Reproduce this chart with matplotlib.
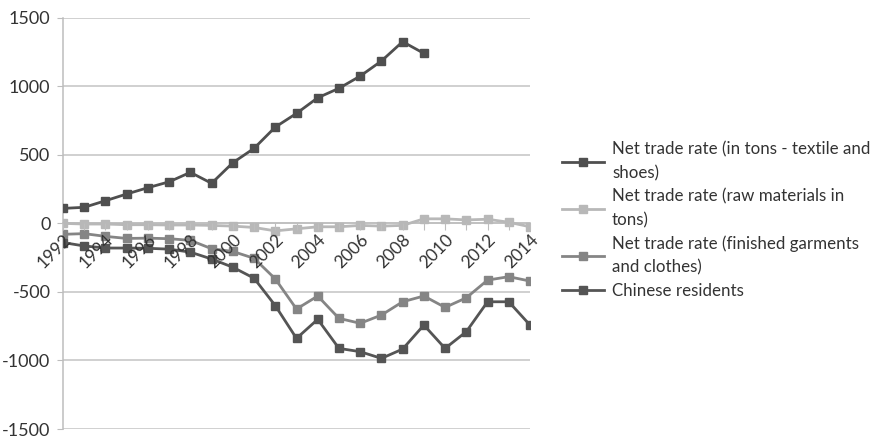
import matplotlib
matplotlib.use("Agg")
import matplotlib.pyplot as plt
from matplotlib.ticker import FixedLocator

plt.rcParams['font.family'] = ['Lato', 'DejaVu Sans']

years = list(range(1992, 2015))
textile_years = list(range(1992, 2010))
textile = [109, 117, 165, 214, 260, 303, 372, 292, 442, 547, 702, 802,
           916, 985, 1074, 1184, 1325, 1240]
raw = [0, -5, -5, -10, -10, -12, -12, -15, -20, -30, -55, -40,
       -25, -25, -15, -20, -15, 33, 33, 25, 30, 8, -25]
finished = [-80, -75, -95, -110, -108, -112, -124, -185, -205, -255, -405, -625,
            -530, -693, -729, -669, -572, -530, -613, -543, -414, -389, -421]
chinese = [-140, -165, -180, -180, -182, -188, -210, -260, -320, -400, -600, -839,
           -700, -912, -936, -985, -917, -742, -912, -790, -572, -572, -742]
yticks = [-1500, -1000, -500, 0, 500, 1000, 1500]

labels = ["Net trade rate (in tons - textile and\nshoes)",
          "Net trade rate (raw materials in\ntons)",
          "Net trade rate (finished garments\nand clothes)",
          "Chinese residents"]
colors = ["#4f4f4f", "#b8b8b8", "#858585", "#555555"]

fig = plt.figure(figsize=(8.82, 4.38), dpi=100)
ax = fig.add_axes([63/882, 1-429/438, (530-63)/882, (429-17.7)/438])

ax.set_ylim(-1500, 1500)
ax.set_xlim(years[0], years[-1])
for yv in yticks:
    ax.axhline(yv, color='#c4c4c4', linewidth=1.1, zorder=0.5)

series = [(textile_years, textile), (years, raw), (years, finished), (years, chinese)]
for (xs, ys), lab, col in zip(series, labels, colors):
    ax.plot(xs, ys, color=col, linewidth=2.0, marker='s', markersize=5.5,
            markeredgecolor=col, markerfacecolor=col, label=lab, zorder=3)

for s in ['top', 'right']:
    ax.spines[s].set_visible(False)
ax.spines['left'].set_color('#bdbdbd')
ax.spines['left'].set_linewidth(1.1)
ax.spines['bottom'].set_position(('data', 0))
ax.spines['bottom'].set_color('#bdbdbd')
ax.spines['bottom'].set_linewidth(1.1)
ax.spines['bottom'].set_zorder(1)

ax.xaxis.set_major_locator(FixedLocator(years))
ax.set_xticklabels([str(y) if (y - 1992) % 2 == 0 else "" for y in years],
                   rotation=45, ha='right', va='top', rotation_mode='anchor',
                   fontsize=12.5, color='#333333')
ax.tick_params(axis='x', length=5, color='#bdbdbd', pad=1)
ax.xaxis.set_zorder(5)
ax.set_yticks(yticks)
ax.set_yticklabels([str(v) for v in yticks])
ax.tick_params(axis='y', length=4, color='#bdbdbd', labelsize=13, labelcolor='#333333', pad=5)

leg = fig.legend(loc='center left', bbox_to_anchor=(562/882, 1-220/438),
                 frameon=False, fontsize=12.2, handlelength=2.5, handletextpad=0.45,
                 labelspacing=0.4, borderaxespad=0, borderpad=0,
                 labelcolor='#333333')
for t in leg.get_texts():
    t.set_linespacing(1.6)

fig.savefig("out.png", dpi=100)
